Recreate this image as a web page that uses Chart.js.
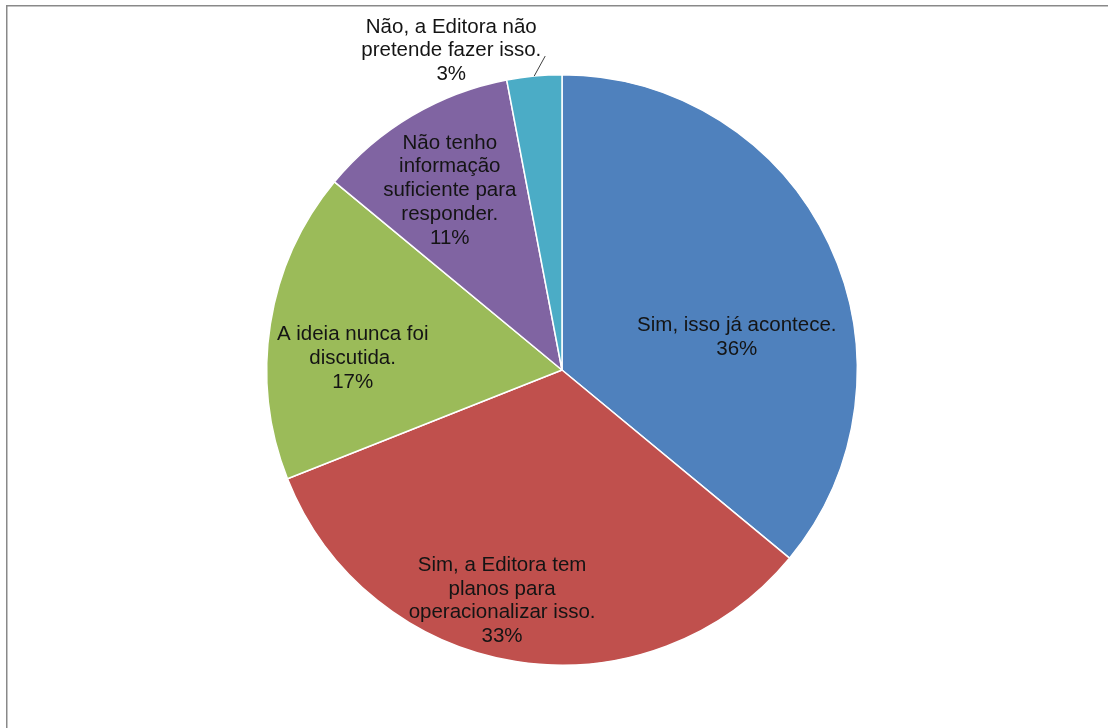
<!DOCTYPE html>
<html>
<head>
<meta charset="utf-8">
<script src="https://cdn.jsdelivr.net/npm/chart.js@4/dist/chart.umd.min.js"></script>
<style>
  html, body { margin: 0; padding: 0; background: #fff; }
  #wrap { width: 1108px; height: 728px; position: relative; }
</style>
</head>
<body>
<div id="wrap"><canvas id="chart" width="1108" height="728"></canvas></div>
<script>
const categories = [
    'Sim, isso já acontece.',
    'Sim, a Editora tem planos para operacionalizar isso.',
    'A ideia nunca foi discutida.',
    'Não tenho informação suficiente para responder.',
    'Não, a Editora não pretende fazer isso.'
];
const values = [36, 33, 17, 11, 3];
const colors = ['#4F81BD', '#C0504D', '#9BBB59', '#8064A2', '#4BACC6'];

// how each label is wrapped, like in the original
const labelLines = [
    ['Sim, isso já acontece.'],
    ['Sim, a Editora tem', 'planos para', 'operacionalizar isso.'],
    ['A ideia nunca foi', 'discutida.'],
    ['Não tenho', 'informação', 'suficiente para', 'responder.'],
    ['Não, a Editora não', 'pretende fazer isso.']
];
// label centre relative to pie centre, as fraction of radius
const labelOffsets = [[0.592, -0.11], [-0.203, 0.782], [-0.709, -0.04], [-0.38, -0.608], [-0.375, -1.081]];

const pieLabels = {
    id: 'pieLabels',
    afterDatasetsDraw(chart) {
        const ctx = chart.ctx;
        const meta = chart.getDatasetMeta(0);
        ctx.save();
        ctx.font = '20.5px "Liberation Sans", Arial, sans-serif';
        ctx.fillStyle = '#141414';
        ctx.textAlign = 'center';
        ctx.textBaseline = 'middle';
        const lh = 23.7;
        meta.data.forEach((arc, i) => {
            const r = arc.outerRadius;
            const cx = arc.x + labelOffsets[i][0] * r;
            const cy = arc.y + labelOffsets[i][1] * r;
            const lines = labelLines[i].concat([values[i] + '%']);
            const top = cy - (lines.length - 1) * lh / 2;
            lines.forEach((t, k) => ctx.fillText(t, cx, top + k * lh));
            if (i === 4) {
                // leader line from slice edge
                const mid = (arc.startAngle + arc.endAngle) / 2;
                const x0 = arc.x + Math.cos(mid) * r;
                const y0 = arc.y + Math.sin(mid) * r;
                ctx.strokeStyle = '#404040';
                ctx.lineWidth = 1;
                ctx.beginPath();
                ctx.moveTo(x0, y0);
                ctx.lineTo(x0 + 11, y0 - 20);
                ctx.stroke();
            }
        });
        ctx.restore();
    }
};

const frame = {
    id: 'frame',
    beforeDraw(chart) {
        const ctx = chart.ctx;
        ctx.save();
        ctx.strokeStyle = '#898989';
        ctx.lineWidth = 1.5;
        ctx.strokeRect(6.75, 5.75, 1200, 800);
        ctx.restore();
    }
};

new Chart(document.getElementById('chart'), {
    type: 'pie',
    data: {
        labels: categories,
        datasets: [{
            data: values,
            backgroundColor: colors,
            borderColor: '#ffffff',
            borderWidth: 1.5
        }]
    },
    options: {
        responsive: false,
        animation: false,
        layout: { padding: { left: 266, right: 250, top: 74, bottom: 62 } },
        plugins: {
            legend: { display: false },
            tooltip: { enabled: false }
        }
    },
    plugins: [frame, pieLabels]
});
</script>
</body>
</html>
